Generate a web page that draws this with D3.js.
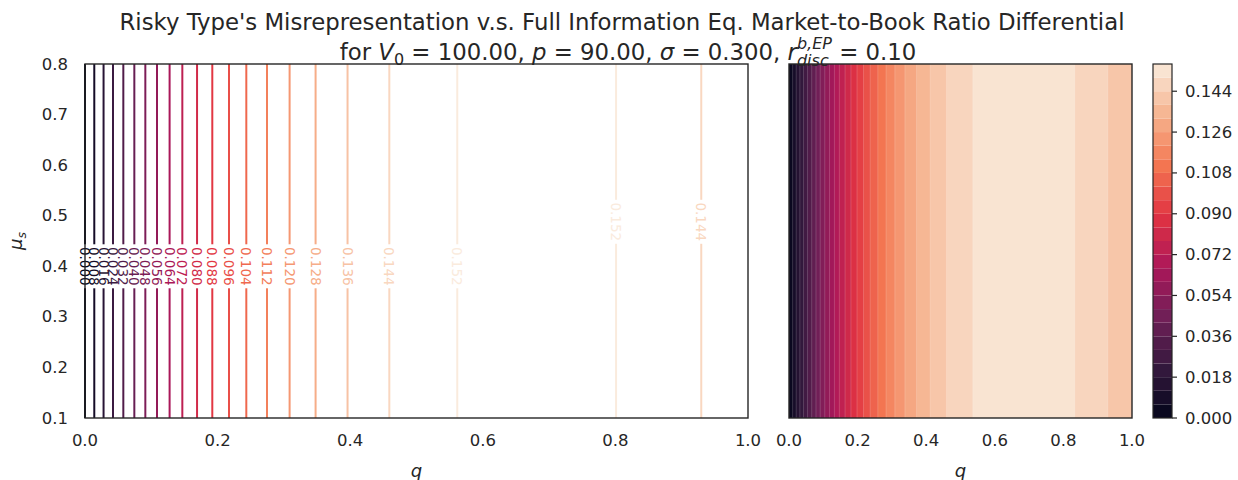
<!DOCTYPE html>
<meta charset="utf-8">
<style>
  body { margin: 0; background: #fff; }
  svg text { font-family: "DejaVu Sans", sans-serif; fill: #262626; white-space: pre; }
</style>
<svg width="1238" height="480"></svg>
<script src="https://cdn.jsdelivr.net/npm/d3@7"></script>
<script>
// differential: value f at each q (constant along mu_s)
var qPts = [0, 0.014, 0.028, 0.0422, 0.0578, 0.0744, 0.091, 0.1086, 0.1276, 0.1468,
            0.169, 0.192, 0.2172, 0.2433, 0.2745, 0.3086, 0.3478, 0.396, 0.459, 0.5615,
            0.68, 0.801, 0.9295, 1.0];
var fPts = [0, 0.008, 0.016, 0.024, 0.032, 0.040, 0.048, 0.056, 0.064, 0.072,
            0.080, 0.088, 0.096, 0.104, 0.112, 0.120, 0.128, 0.136, 0.144, 0.152,
            0.1545, 0.152, 0.144, 0.140];

var lineLevels = [0, 0.008, 0.016, 0.024, 0.032, 0.040, 0.048, 0.056, 0.064, 0.072,
                  0.080, 0.088, 0.096, 0.104, 0.112, 0.120, 0.128, 0.136, 0.144, 0.152];
var fillLevels = [0, 0.006, 0.012, 0.018, 0.024, 0.030, 0.036, 0.042, 0.048, 0.054,
                  0.060, 0.066, 0.072, 0.078, 0.084, 0.090, 0.096, 0.102, 0.108, 0.114,
                  0.120, 0.126, 0.132, 0.138, 0.144, 0.150, 0.156];

var xTicks = [0, 0.2, 0.4, 0.6, 0.8, 1.0];
var yTicks = [0.1, 0.2, 0.3, 0.4, 0.5, 0.6, 0.7, 0.8];
var cbTicks = [0, 0.018, 0.036, 0.054, 0.072, 0.090, 0.108, 0.126, 0.144];

// seaborn "rocket" approximated by a few anchors
var rocket = d3.scaleLinear()
    .domain([0, 1/7, 2/7, 3/7, 4/7, 5/7, 6/7, 1])
    .range(["#03051a", "#35193e", "#701f57", "#ad1759", "#e13342", "#f37651", "#f6b48f", "#faebdd"])
    .interpolate(d3.interpolateRgb)
    .clamp(true);

var svg = d3.select("svg");
var ink = "#262626";
var tickSize = "16.5px";

var x1 = d3.scaleLinear().domain([0, 1]).range([85, 748]);
var x2 = d3.scaleLinear().domain([0, 1]).range([789, 1132]);
var y = d3.scaleLinear().domain([0.1, 0.8]).range([418, 64]);
var cb = d3.scaleLinear().domain([0, fillLevels[fillLevels.length - 1]]).range([418, 64]);

function crossings(level) {
  var out = [];
  for (var i = 0; i < qPts.length; i++) {
    if (Math.abs(fPts[i] - level) < 1e-9) { out.push(qPts[i]); continue; }
    if (i > 0) {
      var a = fPts[i - 1] - level, b = fPts[i] - level;
      if (a * b < 0 && Math.abs(a) > 1e-9) out.push(qPts[i - 1] + a / (a - b) * (qPts[i] - qPts[i - 1]));
    }
  }
  return out;
}

function above(level) {
  var out = [], start = fPts[0] >= level ? qPts[0] : null;
  for (var i = 1; i < qPts.length; i++) {
    var f0 = fPts[i - 1], f1 = fPts[i];
    var was = f0 >= level, now = f1 >= level;
    if (was !== now) {
      var qc = qPts[i - 1] + (level - f0) / (f1 - f0) * (qPts[i] - qPts[i - 1]);
      if (now) start = qc; else { out.push([start, qc]); start = null; }
    }
  }
  if (start !== null) out.push([start, qPts[qPts.length - 1]]);
  return out;
}

// ---- left: contour lines with inline labels
var lmax = lineLevels[lineLevels.length - 1];
var labelMu = [0.40, 0.488];
var lines = [];
lineLevels.forEach(function(lv) {
  crossings(lv).forEach(function(q, k) { lines.push({ lv: lv, q: q, k: k }); });
});

var gl = svg.append("g");
lines.forEach(function(d) {
  var cx = x1(d.q), cy = y(labelMu[Math.min(d.k, 1)]);
  var col = rocket(d.lv / lmax);
  gl.append("line").attr("x1", cx).attr("x2", cx).attr("y1", y(0.8)).attr("y2", cy - 22)
    .attr("stroke", col).attr("stroke-width", 2);
  gl.append("line").attr("x1", cx).attr("x2", cx).attr("y1", cy + 22).attr("y2", y(0.1))
    .attr("stroke", col).attr("stroke-width", 2);
  gl.append("text")
    .attr("transform", "translate(" + cx + "," + cy + ") rotate(90)")
    .attr("text-anchor", "middle").attr("dominant-baseline", "central")
    .style("font-size", "13.5px").style("fill", col)
    .text(d.lv.toFixed(3));
});

svg.append("rect").attr("x", 85).attr("y", 64).attr("width", 663).attr("height", 354)
  .attr("fill", "none").attr("stroke", ink).attr("stroke-width", 1.4);

// ---- right: filled contours
var fmax = fillLevels[fillLevels.length - 1];
var gf = svg.append("g");
for (var i = 0; i < fillLevels.length - 1; i++) {
  var col = rocket((fillLevels[i] + fillLevels[i + 1]) / 2 / fmax);
  above(fillLevels[i]).forEach(function(iv) {
    gf.append("rect").attr("x", x2(iv[0])).attr("width", x2(iv[1]) - x2(iv[0]))
      .attr("y", y(0.8)).attr("height", y(0.1) - y(0.8)).attr("fill", col);
  });
}
// faint seams between bands
for (var k = 1; k < fillLevels.length - 1; k++) {
  above(fillLevels[k]).forEach(function(iv) {
    iv.forEach(function(q) {
      if (q <= 0 || q >= 1) return;
      gf.append("line").attr("x1", x2(q)).attr("x2", x2(q)).attr("y1", y(0.8)).attr("y2", y(0.1))
        .attr("stroke", "#fff").attr("stroke-opacity", 0.22).attr("stroke-width", 0.8);
    });
  });
}
svg.append("rect").attr("x", 789).attr("y", 64).attr("width", 343).attr("height", 354)
  .attr("fill", "none").attr("stroke", ink).attr("stroke-width", 1.4);

// ---- colorbar
var gc = svg.append("g");
for (var j = 0; j < fillLevels.length - 1; j++) {
  gc.append("rect").attr("x", 1153).attr("width", 19)
    .attr("y", cb(fillLevels[j + 1])).attr("height", cb(fillLevels[j]) - cb(fillLevels[j + 1]))
    .attr("fill", rocket((fillLevels[j] + fillLevels[j + 1]) / 2 / fmax));
}
gc.append("rect").attr("x", 1153).attr("y", 64).attr("width", 19).attr("height", 354)
  .attr("fill", "none").attr("stroke", ink).attr("stroke-width", 1.2);
cbTicks.forEach(function(v) {
  gc.append("line").attr("x1", 1172).attr("x2", 1177).attr("y1", cb(v)).attr("y2", cb(v))
    .attr("stroke", ink).attr("stroke-width", 1.2);
  gc.append("text").attr("x", 1185).attr("y", cb(v)).attr("dominant-baseline", "central")
    .style("font-size", tickSize).text(v.toFixed(3));
});

// ---- tick labels
[x1, x2].forEach(function(xs) {
  xTicks.forEach(function(v) {
    svg.append("text").attr("x", xs(v)).attr("y", 446).attr("text-anchor", "middle")
      .style("font-size", tickSize).text(v.toFixed(1));
  });
  svg.append("text").attr("x", (xs.range()[0] + xs.range()[1]) / 2).attr("y", 477)
    .attr("text-anchor", "middle").style("font-size", "18px").style("font-style", "italic").text("q");
});
yTicks.forEach(function(v) {
  svg.append("text").attr("x", 68).attr("y", y(v)).attr("text-anchor", "end")
    .attr("dominant-baseline", "central").style("font-size", tickSize).text(v.toFixed(1));
});
var yl = svg.append("text").attr("transform", "translate(22,241) rotate(-90)")
  .attr("text-anchor", "middle").style("font-size", "18px");
yl.append("tspan").style("font-style", "italic").text("\u03bc");
yl.append("tspan").attr("dy", 4).style("font-size", "12.5px").style("font-style", "italic").text("s");

// ---- title
svg.append("text").attr("x", 622).attr("y", 30).attr("text-anchor", "middle")
  .style("font-size", "22.8px")
  .text("Risky Type's Misrepresentation v.s. Full Information Eq. Market-to-Book Ratio Differential");

var pieces = [
  { t: "for " }, { t: "V", it: 1 }, { t: "0", dy: 5, s: 1 }, { t: " = 100.00, " },
  { t: "p", it: 1 }, { t: " = 90.00, " }, { t: "\u03c3", it: 1 }, { t: " = 0.300, " },
  { t: "r", it: 1 }, { sup: "b,EP", sub: "disc" }, { t: " = 0.10" }
];
var tg = svg.append("g"), px = 0;
pieces.forEach(function(p) {
  if (p.sup) {
    var a = tg.append("text").attr("x", px).attr("y", -11).style("font-size", "16px")
      .style("font-style", "italic").text(p.sup);
    var b = tg.append("text").attr("x", px).attr("y", 6).style("font-size", "16px")
      .style("font-style", "italic").text(p.sub);
    px += Math.max(a.node().getComputedTextLength(), b.node().getComputedTextLength());
    return;
  }
  var t = tg.append("text").attr("x", px).attr("y", p.dy || 0)
    .style("font-size", p.s ? "16px" : "22.8px")
    .style("font-style", p.it ? "italic" : "normal").text(p.t);
  px += t.node().getComputedTextLength();
});
tg.attr("transform", "translate(" + (628 - px / 2) + ",60)");
</script>
